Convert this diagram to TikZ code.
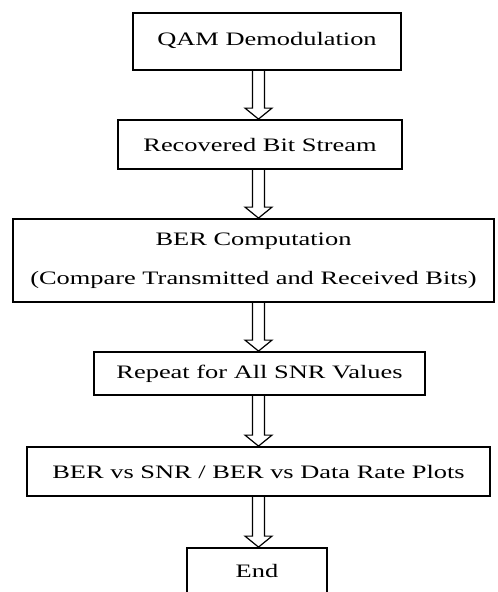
\documentclass[tikz,border=0pt]{standalone}
\usepackage{fontspec}
\setmainfont[FakeStretch=1.39]{Liberation Serif}
\usetikzlibrary{calc}
\tikzset{
  box/.style={draw, line width=1.8pt, inner sep=0pt, fill=white,
    font=\fontsize{19}{39}\selectfont, align=center},
  hollow/.style={draw, line width=1.2pt, line join=miter,
    to path={let \p1=(\tikztostart), \p2=(\tikztotarget) in
      (\x1-6pt,\y1) -- (\x1-6pt,\y2+11pt) -- (\x1-13.5pt,\y2+11pt) -- (\x2,\y2)
      -- (\x1+13.5pt,\y2+11pt) -- (\x1+6pt,\y2+11pt) -- (\x1+6pt,\y1)}}
}
\begin{document}
\begin{tikzpicture}[x=1pt,y=-1pt]
  \fill[white] (0,0) rectangle (498,592);
  \useasboundingbox (0,0) rectangle (498,592);
  \coordinate (axis) at (258.5,0);

  \node[box, minimum width=268pt, minimum height=57pt] (qam) at (267,41.5)
    {\raisebox{5pt}{QAM Demodulation}};
  \node[box, minimum width=284pt, minimum height=49pt] (bits) at (260,144.5)
    {Recovered Bit Stream};
  \node[box, minimum width=481pt, minimum height=83pt] (ber) at (253.5,260.5)
    {BER Computation\\(Compare Transmitted and Received Bits)};
  \node[box, minimum width=331pt, minimum height=43pt] (rep) at (259.5,373.5)
    {Repeat for All SNR Values};
  \node[box, minimum width=463pt, minimum height=49pt] (plots) at (258.5,471.5)
    {BER vs SNR / BER vs Data Rate Plots};
  \node[box, minimum width=140pt, minimum height=52pt] (fin) at (257,574)
    {\raisebox{6pt}{End}};

  \draw[hollow] (qam.south -| axis) to (bits.north -| axis);
  \draw[hollow] (bits.south -| axis) to (ber.north -| axis);
  \draw[hollow] (ber.south -| axis) to (rep.north -| axis);
  \draw[hollow] (rep.south -| axis) to (plots.north -| axis);
  \draw[hollow] (plots.south -| axis) to (fin.north -| axis);
\end{tikzpicture}
\end{document}
